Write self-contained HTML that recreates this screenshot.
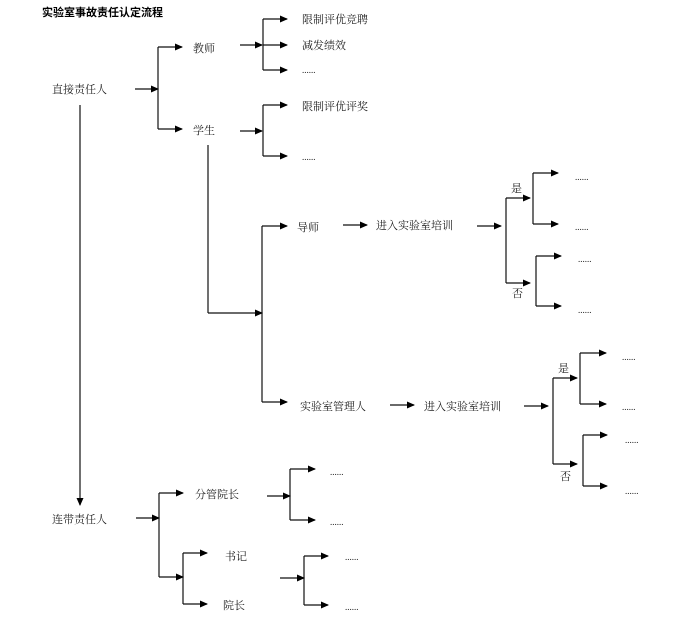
<!DOCTYPE html>
<html><head><meta charset="utf-8"><style>
html,body{margin:0;padding:0;background:#fff;}
svg{display:block;}
text{font-family:"Liberation Serif","Noto Serif CJK SC",serif;font-size:11px;fill:#222;}
.t{font-family:"Liberation Sans","Noto Sans CJK SC",sans-serif;font-weight:bold;font-size:11px;fill:#000;}
.d{font-size:9px;}
line,polyline{stroke:#111;stroke-width:1.2;fill:none;}
</style></head><body>
<svg width="694" height="626" viewBox="0 0 694 626" xmlns="http://www.w3.org/2000/svg">
<defs><marker id="a" markerWidth="8" markerHeight="7" refX="7" refY="3.5" orient="auto" markerUnits="userSpaceOnUse"><polygon points="0,0 8,3.5 0,7" fill="#000"/></marker></defs>
<text class="t" x="42" y="16">实验室事故责任认定流程</text>

<text x="52" y="93">直接责任人</text>
<line x1="135" y1="89" x2="158" y2="89" marker-end="url(#a)"/>
<line x1="158" y1="47" x2="158" y2="129"/>
<line x1="158" y1="47" x2="182" y2="47" marker-end="url(#a)"/>
<line x1="158" y1="129" x2="182" y2="129" marker-end="url(#a)"/>
<text x="193" y="52">教师</text>
<text x="193" y="134">学生</text>

<line x1="240" y1="45" x2="262" y2="45" marker-end="url(#a)"/>
<line x1="263" y1="19" x2="263" y2="70"/>
<line x1="263" y1="19" x2="287" y2="19" marker-end="url(#a)"/>
<line x1="263" y1="45" x2="287" y2="45" marker-end="url(#a)"/>
<line x1="263" y1="70" x2="287" y2="70" marker-end="url(#a)"/>
<text x="302" y="23">限制评优竞聘</text>
<text x="302" y="49">减发绩效</text>
<text class="d" x="302" y="73">......</text>

<line x1="240" y1="131" x2="262" y2="131" marker-end="url(#a)"/>
<line x1="263" y1="105" x2="263" y2="156"/>
<line x1="263" y1="105" x2="287" y2="105" marker-end="url(#a)"/>
<line x1="263" y1="156" x2="287" y2="156" marker-end="url(#a)"/>
<text x="302" y="110">限制评优评奖</text>
<text class="d" x="302" y="160">......</text>

<line x1="80" y1="105" x2="80" y2="505" marker-end="url(#a)"/>
<polyline points="208,145 208,313"/>
<line x1="208" y1="313" x2="262" y2="313" marker-end="url(#a)"/>
<line x1="262" y1="226" x2="262" y2="402"/>
<line x1="262" y1="226" x2="287" y2="226" marker-end="url(#a)"/>
<line x1="262" y1="402" x2="287" y2="402" marker-end="url(#a)"/>
<text x="297" y="231">导师</text>
<line x1="343" y1="225" x2="367" y2="225" marker-end="url(#a)"/>
<text x="376" y="229">进入实验室培训</text>
<line x1="477" y1="226" x2="501" y2="226" marker-end="url(#a)"/>
<line x1="506" y1="198" x2="506" y2="283"/>
<line x1="506" y1="198" x2="530" y2="198" marker-end="url(#a)"/>
<line x1="506" y1="283" x2="530" y2="283" marker-end="url(#a)"/>
<text x="511" y="192">是</text>
<text x="512" y="297">否</text>
<line x1="533" y1="173" x2="533" y2="224"/>
<line x1="533" y1="173" x2="558" y2="173" marker-end="url(#a)"/>
<line x1="533" y1="224" x2="558" y2="224" marker-end="url(#a)"/>
<line x1="536" y1="256" x2="536" y2="306"/>
<line x1="536" y1="256" x2="561" y2="256" marker-end="url(#a)"/>
<line x1="536" y1="306" x2="561" y2="306" marker-end="url(#a)"/>
<text class="d" x="575" y="180">......</text>
<text class="d" x="575" y="230">......</text>
<text class="d" x="578" y="262">......</text>
<text class="d" x="578" y="313">......</text>

<text x="300" y="410">实验室管理人</text>
<line x1="390" y1="405" x2="414" y2="405" marker-end="url(#a)"/>
<text x="424" y="410">进入实验室培训</text>
<line x1="524" y1="406" x2="548" y2="406" marker-end="url(#a)"/>
<line x1="553" y1="378" x2="553" y2="464"/>
<line x1="553" y1="378" x2="577" y2="378" marker-end="url(#a)"/>
<line x1="553" y1="464" x2="577" y2="464" marker-end="url(#a)"/>
<text x="558" y="372">是</text>
<text x="560" y="480">否</text>
<line x1="580" y1="353" x2="580" y2="404"/>
<line x1="580" y1="353" x2="606" y2="353" marker-end="url(#a)"/>
<line x1="580" y1="404" x2="606" y2="404" marker-end="url(#a)"/>
<line x1="583" y1="435" x2="583" y2="486"/>
<line x1="583" y1="435" x2="607" y2="435" marker-end="url(#a)"/>
<line x1="583" y1="486" x2="607" y2="486" marker-end="url(#a)"/>
<text class="d" x="622" y="360">......</text>
<text class="d" x="622" y="410">......</text>
<text class="d" x="625" y="443">......</text>
<text class="d" x="625" y="494">......</text>

<text x="52" y="523">连带责任人</text>
<line x1="136" y1="518" x2="159" y2="518" marker-end="url(#a)"/>
<line x1="159" y1="493" x2="159" y2="577"/>
<line x1="159" y1="493" x2="183" y2="493" marker-end="url(#a)"/>
<line x1="159" y1="577" x2="183" y2="577" marker-end="url(#a)"/>
<text x="195" y="498">分管院长</text>
<line x1="183" y1="553" x2="183" y2="604"/>
<line x1="183" y1="553" x2="207" y2="553" marker-end="url(#a)"/>
<line x1="183" y1="604" x2="207" y2="604" marker-end="url(#a)"/>
<text x="225" y="560">书记</text>
<text x="223" y="609">院长</text>

<line x1="267" y1="496" x2="290" y2="496" marker-end="url(#a)"/>
<line x1="290" y1="469" x2="290" y2="520"/>
<line x1="290" y1="469" x2="315" y2="469" marker-end="url(#a)"/>
<line x1="290" y1="520" x2="315" y2="520" marker-end="url(#a)"/>
<text class="d" x="330" y="475">......</text>
<text class="d" x="330" y="525">......</text>

<line x1="280" y1="578" x2="304" y2="578" marker-end="url(#a)"/>
<line x1="304" y1="556" x2="304" y2="605"/>
<line x1="304" y1="556" x2="328" y2="556" marker-end="url(#a)"/>
<line x1="304" y1="605" x2="328" y2="605" marker-end="url(#a)"/>
<text class="d" x="345" y="560">......</text>
<text class="d" x="345" y="610">......</text>
</svg>
</body></html>
